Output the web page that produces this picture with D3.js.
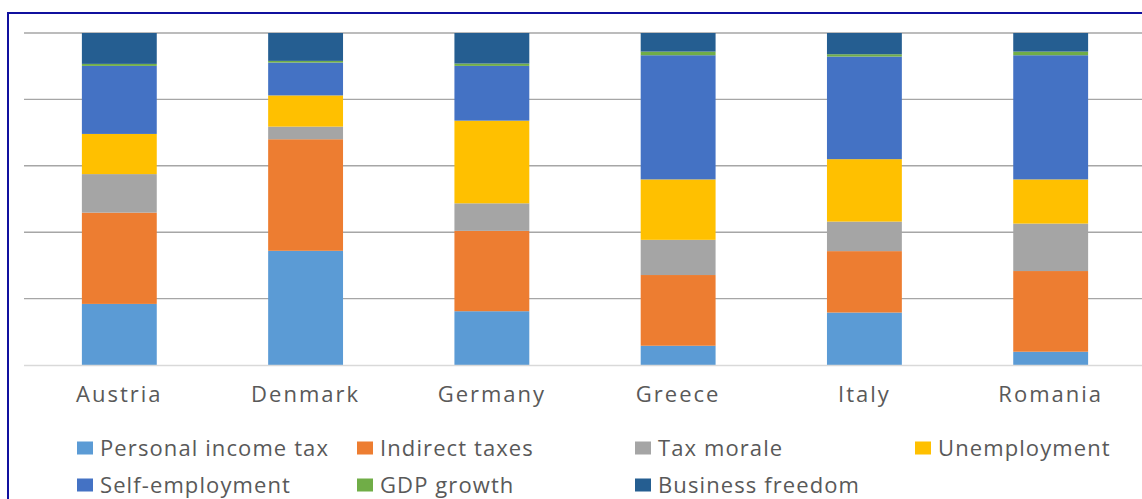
<!DOCTYPE html>
<html>
<head>
<meta charset="utf-8">
<script src="https://cdn.jsdelivr.net/npm/d3@7/dist/d3.min.js"></script>
<style>
  html, body { margin: 0; padding: 0; background: #fff; }
  svg { display: block; }
  text { font-family: "Open Sans", "DejaVu Sans", sans-serif; fill: #595959; }
</style>
</head>
<body>
<svg id="chart" width="1142" height="499"></svg>
<script>
const countries = ["Austria", "Denmark", "Germany", "Greece", "Italy", "Romania"];
const seriesNames = ["Personal income tax", "Indirect taxes", "Tax morale", "Unemployment",
                     "Self-employment", "GDP growth", "Business freedom"];
const seriesColors = ["#5B9BD5", "#ED7D31", "#A5A5A5", "#FFC000", "#4472C4", "#70AD47", "#255E91"];

const personalIncomeTax = [18.4, 34.4, 16.2, 5.8, 15.8, 4.0];
const indirectTaxes     = [27.5, 33.6, 24.2, 21.3, 18.5, 24.3];
const taxMorale         = [11.6, 3.8, 8.3, 10.6, 8.9, 14.3];
const unemployment      = [12.1, 9.4, 24.9, 18.2, 18.8, 13.3];
const selfEmployment    = [20.5, 9.9, 16.5, 37.4, 30.9, 37.4];
const gdpGrowth         = [0.6, 0.5, 0.7, 1.1, 0.7, 1.1];
const businessFreedom   = [9.3, 8.4, 9.2, 5.6, 6.4, 5.6];
const yTicks = [0, 20, 40, 60, 80, 100];

const seriesValues = [personalIncomeTax, indirectTaxes, taxMorale, unemployment,
                      selfEmployment, gdpGrowth, businessFreedom];

const rows = countries.map((c, i) => {
  const r = { country: c };
  seriesNames.forEach((s, j) => r[s] = seriesValues[j][i]);
  return r;
});

const svg = d3.select("#chart");

const plot = { left: 24, right: 1142, top: 33, bottom: 365 };

const x = d3.scaleBand().domain(countries).range([26, 1144]).paddingInner(0.598).paddingOuter(0.3);
const y = d3.scaleLinear().domain([0, 100]).range([plot.bottom, plot.top]);

// gridlines
svg.append("g").selectAll("line").data(yTicks.filter(t => t > 0)).join("line")
  .attr("x1", plot.left).attr("x2", plot.right)
  .attr("y1", d => y(d)).attr("y2", d => y(d))
  .attr("stroke", "#a6a6a6").attr("stroke-width", 1.4);

// bars
const stack = d3.stack().keys(seriesNames).offset(d3.stackOffsetExpand);
const stacked = stack(rows);
const yPct = d3.scaleLinear().domain([0, 1]).range([plot.bottom, plot.top]);

svg.append("g").selectAll("g").data(stacked).join("g")
  .attr("fill", (d, i) => seriesColors[i])
  .selectAll("rect").data(d => d).join("rect")
  .attr("x", d => x(d.data.country))
  .attr("width", x.bandwidth())
  .attr("y", d => yPct(d[1]))
  .attr("height", d => yPct(d[0]) - yPct(d[1]));

// category axis
const xAxis = svg.append("g").attr("transform", `translate(0,${plot.bottom})`)
  .call(d3.axisBottom(x).tickSize(0).tickPadding(37));
xAxis.select(".domain").remove();
svg.append("line").attr("x1", plot.left).attr("x2", plot.right)
  .attr("y1", plot.bottom + 0.5).attr("y2", plot.bottom + 0.5)
  .attr("stroke", "#d9d9d9").attr("stroke-width", 1.5);
xAxis.selectAll("text")
  .attr("font-family", "'Open Sans', sans-serif")
  .attr("font-size", 22).attr("fill", "#595959")
  .attr("letter-spacing", 2)
  .attr("dy", 0);

// legend
const legendX = [77, 357, 635, 915];
const legendY = [448, 485];
const legend = svg.append("g");
seriesNames.forEach((s, i) => {
  const col = i < 4 ? i : i - 4;
  const row = i < 4 ? 0 : 1;
  const g = legend.append("g").attr("transform", `translate(${legendX[col]},${legendY[row]})`);
  g.append("rect").attr("x", 0).attr("y", -6.5).attr("width", 16).attr("height", 13).attr("fill", seriesColors[i]);
  g.append("text").attr("x", 23).attr("y", 0).attr("dy", "0.35em")
    .attr("font-size", 22).attr("letter-spacing", 1.1).text(s);
});

// outer frame
svg.append("rect").attr("x", 8).attr("y", 13).attr("width", 1150).attr("height", 500)
  .attr("fill", "none").attr("stroke", "#10109e").attr("stroke-width", 2);
</script>
</body>
</html>
